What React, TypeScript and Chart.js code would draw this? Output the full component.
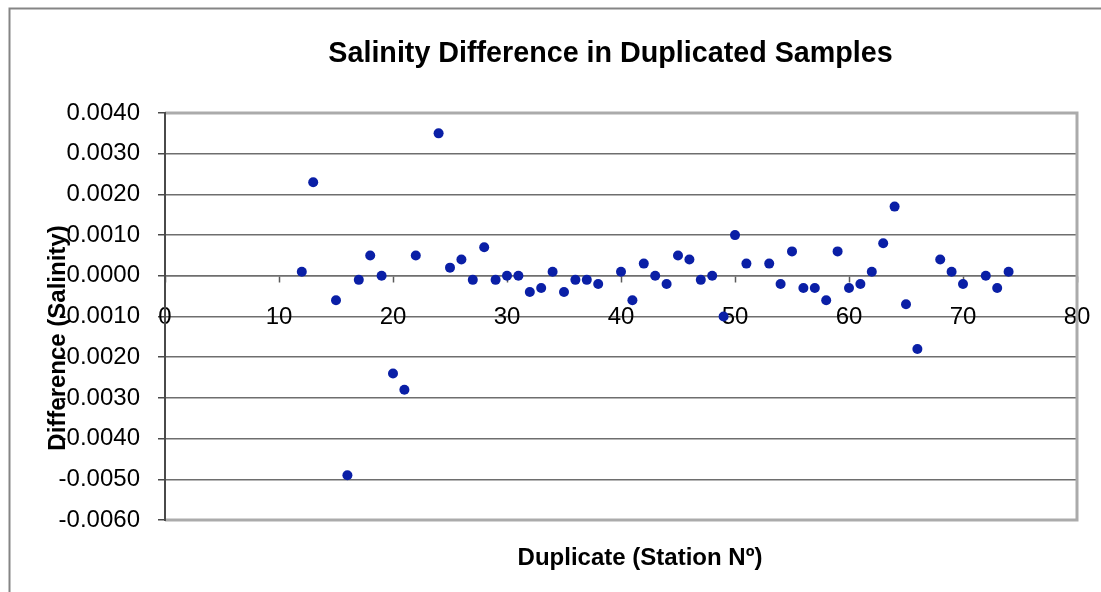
import React, { useEffect, useRef } from "react";
import { Chart, registerables } from "chart.js";

Chart.register(...registerables);

const chartTitle = "Salinity Difference in Duplicated Samples";
const xAxisTitle = "Duplicate (Station Nº)";
const yAxisTitle = "Difference (Salinity)";

const stations = [
  12, 13, 15, 16, 17, 18, 19, 20, 21, 22, 24, 25, 26, 27, 28, 29, 30, 31, 32, 33,
  34, 35, 36, 37, 38, 40, 41, 42, 43, 44, 45, 46, 47, 48, 49, 50, 51, 53, 54, 55,
  56, 57, 58, 59, 60, 61, 62, 63, 64, 65, 66, 68, 69, 70, 72, 73, 74,
];
const differences = [
  0.0001, 0.0023, -0.0006, -0.0049, -0.0001, 0.0005, 0.0, -0.0024, -0.0028, 0.0005,
  0.0035, 0.0002, 0.0004, -0.0001, 0.0007, -0.0001, 0.0, 0.0, -0.0004, -0.0003,
  0.0001, -0.0004, -0.0001, -0.0001, -0.0002, 0.0001, -0.0006, 0.0003, 0.0, -0.0002,
  0.0005, 0.0004, -0.0001, 0.0, -0.001, 0.001, 0.0003, 0.0003, -0.0002, 0.0006,
  -0.0003, -0.0003, -0.0006, 0.0006, -0.0003, -0.0002, 0.0001, 0.0008, 0.0017, -0.0007,
  -0.0018, 0.0004, 0.0001, -0.0002, 0.0, -0.0003, 0.0001,
];

const xMin = 0;
const xMax = 80;
const xStep = 10;
const yMin = -0.006;
const yMax = 0.004;
const yStep = 0.001;

const W = 1101;
const H = 592;

const overlayPlugin = {
  id: "overlay",
  beforeDraw(chart: any) {
    const { ctx, width, height } = chart;
    ctx.save();
    ctx.fillStyle = "#ffffff";
    ctx.fillRect(0, 0, width, height);
    ctx.strokeStyle = "#858585";
    ctx.lineWidth = 2;
    ctx.strokeRect(9.5, 8.5, width + 10, height + 10);
    ctx.restore();
  },
  beforeDatasetsDraw(chart: any) {
    const { ctx, chartArea } = chart;
    const { left, top, right, bottom } = chartArea;
    ctx.save();
    ctx.strokeStyle = "#ababab";
    ctx.lineWidth = 3;
    ctx.beginPath();
    ctx.moveTo(left, top);
    ctx.lineTo(right, top);
    ctx.lineTo(right, bottom);
    ctx.lineTo(left, bottom);
    ctx.stroke();
    ctx.strokeStyle = "#4a4a4a";
    ctx.lineWidth = 2;
    ctx.beginPath();
    ctx.moveTo(left, top - 1);
    ctx.lineTo(left, bottom + 1);
    ctx.stroke();
    ctx.restore();
  },
  afterDraw(chart: any) {
    const { ctx } = chart;
    ctx.save();
    ctx.fillStyle = "#000000";
    ctx.textAlign = "center";
    ctx.textBaseline = "alphabetic";
    ctx.font = "bold 28.7px 'Liberation Sans', Arial, sans-serif";
    ctx.fillText(chartTitle, 610.5, 62);
    ctx.font = "bold 24px 'Liberation Sans', Arial, sans-serif";
    ctx.fillText(xAxisTitle, 640, 565);
    ctx.translate(65, 338);
    ctx.rotate(-Math.PI / 2);
    ctx.fillText(yAxisTitle, 0, 0);
    ctx.restore();
  },
};

export default function App() {
  const canvasRef = useRef<HTMLCanvasElement | null>(null);

  useEffect(() => {
    if (!canvasRef.current) return;
    const tickFont = { family: "'Liberation Sans', Arial, sans-serif", size: 24 };
    const chart = new Chart(canvasRef.current, {
      type: "scatter",
      data: {
        datasets: [
          {
            label: "Difference",
            data: stations.map((s, i) => ({ x: s, y: differences[i] })),
            backgroundColor: "#0a1fa6",
            borderColor: "#0a1fa6",
            borderWidth: 0,
            pointRadius: 5,
            pointHoverRadius: 5,
          },
        ],
      },
      options: {
        animation: false,
        responsive: false,
        maintainAspectRatio: false,
        layout: { padding: { left: 0, top: 113, right: 24, bottom: 72 } },
        plugins: {
          legend: { display: false },
          title: { display: false },
          tooltip: { enabled: false },
        },
        scales: {
          x: {
            type: "linear",
            position: { y: 0 } as any,
            min: xMin,
            max: xMax,
            afterFit: (scale: any) => {
              scale.paddingLeft = 0;
              scale.paddingRight = 0;
            },
            ticks: {
              stepSize: xStep,
              color: "#000000",
              font: tickFont,
              padding: 21,
              maxRotation: 0,
              callback: (v: any) => String(v),
            },
            grid: {
              drawOnChartArea: false,
              drawTicks: true,
              tickLength: 6,
              tickColor: "#5a5a5a",
              tickWidth: 1.5,
            },
            border: { display: true, color: "#6e6e6e", width: 1.5 },
          },
          y: {
            type: "linear",
            position: "left",
            min: yMin,
            max: yMax,
            afterFit: (scale: any) => {
              scale.width = 165;
              scale.paddingTop = 0;
              scale.paddingBottom = 0;
            },
            ticks: {
              stepSize: yStep,
              color: "#000000",
              font: tickFont,
              padding: 18,
              callback: (v: any) => {
                const n = Math.abs(Number(v)) < 1e-9 ? 0 : Number(v);
                return n.toFixed(4);
              },
            },
            grid: {
              color: "#6e6e6e",
              lineWidth: 1.5,
              tickLength: 7,
              tickColor: "#4a4a4a",
              tickWidth: 1.5,
            },
            border: { display: true, color: "#4a4a4a", width: 2 },
          },
        },
      },
      plugins: [overlayPlugin],
    });
    return () => chart.destroy();
  }, []);

  return (
    <div style={{ position: "fixed", left: 0, top: 0, width: W, height: H, overflow: "hidden" }}>
      <canvas ref={canvasRef} width={W} height={H} style={{ width: W, height: H, display: "block" }} />
    </div>
  );
}
